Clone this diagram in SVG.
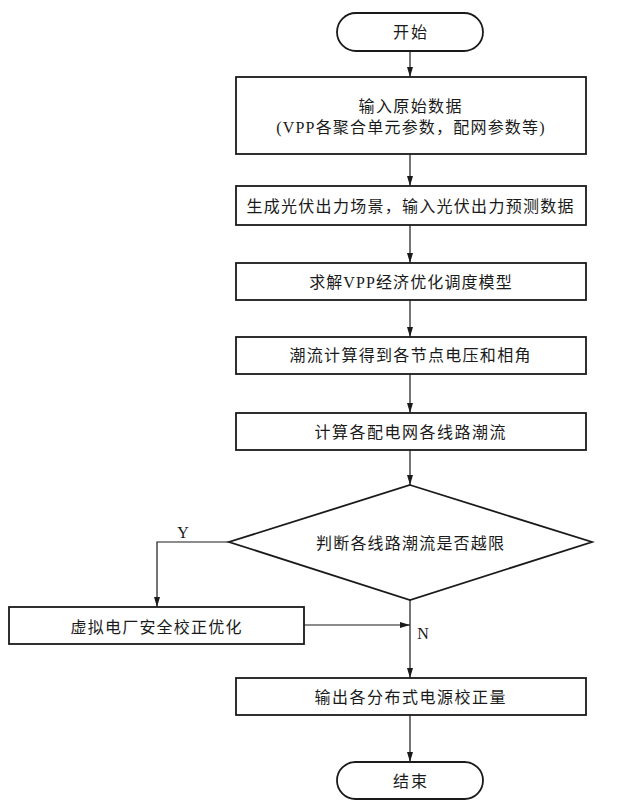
<svg xmlns="http://www.w3.org/2000/svg" width="618" height="811" viewBox="0 0 618 811">
<style>
.shape{fill:#fff;stroke:#1a1a1a;stroke-width:1.8}
.conn{fill:none;stroke:#1a1a1a;stroke-width:1.2}
text{font-family:"Liberation Serif","Noto Sans CJK SC",serif;font-size:16px;fill:#1a1a1a;text-anchor:middle;dominant-baseline:central}
.lbl{font-size:16px}
</style>
<defs>
<marker id="arr" viewBox="0 0 10 10" refX="10" refY="5" markerWidth="10" markerHeight="10" markerUnits="userSpaceOnUse" orient="auto">
<path d="M0,2 L10,5 L0,8 Z" fill="#1a1a1a"/>
</marker>
</defs>
<rect width="618" height="811" fill="#fff"/>
<g id="connectors">
<line class="conn" x1="410" y1="51" x2="410" y2="77" marker-end="url(#arr)"/>
<line class="conn" x1="410" y1="154" x2="410" y2="186" marker-end="url(#arr)"/>
<line class="conn" x1="410" y1="225" x2="410" y2="263" marker-end="url(#arr)"/>
<line class="conn" x1="410" y1="300" x2="410" y2="337" marker-end="url(#arr)"/>
<line class="conn" x1="410" y1="374" x2="410" y2="413" marker-end="url(#arr)"/>
<line class="conn" x1="410" y1="450" x2="410" y2="485" marker-end="url(#arr)"/>
<polyline class="conn" points="229,542 157,542 157,607" marker-end="url(#arr)"/>
<line class="conn" x1="304" y1="625" x2="410" y2="625" marker-end="url(#arr)"/>
<line class="conn" x1="410" y1="600" x2="410" y2="678" marker-end="url(#arr)"/>
<line class="conn" x1="410" y1="715" x2="410" y2="762" marker-end="url(#arr)"/>
<text class="lbl" x="183" y="532">Y</text>
<text class="lbl" x="423" y="633">N</text>
</g>
<g id="start">
<rect class="shape" x="337" y="13" width="146" height="38" rx="19"/>
<text x="410" y="32" textLength="34">开始</text>
</g>
<g id="input">
<rect class="shape" x="236" y="77" width="350" height="77"/>
<text x="410" y="106" textLength="103">输入原始数据</text>
<text x="411" y="127" letter-spacing="1.2">(VPP各聚合单元参数，配网参数等)</text>
</g>
<g id="scenario">
<rect class="shape" x="236" y="186" width="350" height="39"/>
<text x="410" y="206" textLength="327">生成光伏出力场景，输入光伏出力预测数据</text>
</g>
<g id="solve">
<rect class="shape" x="236" y="263" width="350" height="37"/>
<text x="411" y="282" letter-spacing="1.1">求解VPP经济优化调度模型</text>
</g>
<g id="powerflow">
<rect class="shape" x="236" y="337" width="350" height="37"/>
<text x="410" y="355" textLength="241">潮流计算得到各节点电压和相角</text>
</g>
<g id="lineflow">
<rect class="shape" x="236" y="413" width="350" height="37"/>
<text x="410" y="432" textLength="191">计算各配电网各线路潮流</text>
</g>
<g id="decision">
<polygon class="shape" points="410,485 592,542 410,600 229,542"/>
<text x="410" y="543" textLength="188">判断各线路潮流是否越限</text>
</g>
<g id="correct">
<rect class="shape" x="9" y="607" width="295" height="37"/>
<text x="156" y="627" textLength="171">虚拟电厂安全校正优化</text>
</g>
<g id="output">
<rect class="shape" x="236" y="678" width="350" height="37"/>
<text x="410" y="697" textLength="191">输出各分布式电源校正量</text>
</g>
<g id="end">
<rect class="shape" x="337" y="762" width="146" height="37" rx="18.5"/>
<text x="410" y="781" textLength="34">结束</text>
</g>
</svg>
